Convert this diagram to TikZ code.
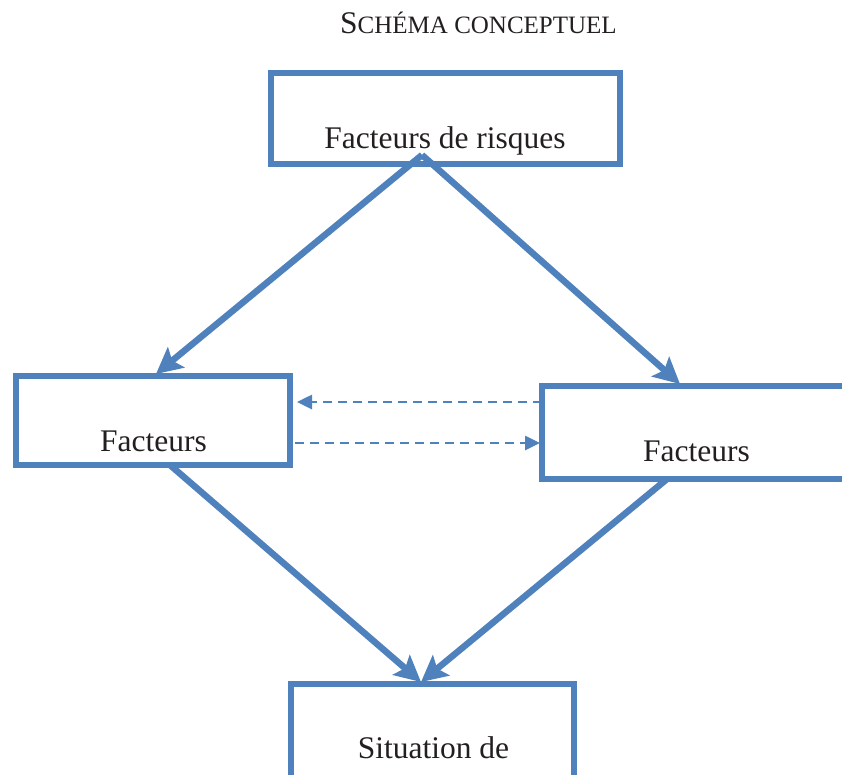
\documentclass[tikz,border=0pt]{standalone}
\usepackage{fontspec}
\setmainfont{Liberation Serif}
\usetikzlibrary{arrows.meta,calc}
\definecolor{boxblue}{HTML}{4F81BD}
\definecolor{ink}{HTML}{231F20}
\begin{document}
\begin{tikzpicture}[x=1pt,y=-1pt,
  box/.style={draw=boxblue,line width=6pt,rectangle,outer sep=0pt,inner sep=0pt},
  lbl/.style={anchor=base,inner sep=0pt,text=ink,font=\fontsize{31.5}{32}\selectfont},
  mainarrow/.style={draw=boxblue,line width=6.5pt,-{Stealth[length=26pt,width=26pt,inset=5pt]}},
  dasharrow/.style={draw=boxblue,line width=2.6pt,dash pattern=on 9pt off 6pt,-{Triangle[length=15pt,width=14pt]}}]
\clip (0,0) rectangle (842,774);
% title
\node[anchor=base,inner sep=0pt,text=ink] (title) at (478.5,33)
  {{\fontsize{31.5}{32}\selectfont S}{\fontsize{25}{26}\selectfont CHÉMA CONCEPTUEL}};
% boxes
\node[box,minimum width=349pt,minimum height=91pt] (top) at (445.5,118.5) {};
\node[box,minimum width=274pt,minimum height=89pt] (left) at (153,420.5) {};
\node[box,minimum width=310pt,minimum height=93pt] (right) at (697,432.5) {};
\node[box,minimum width=283pt,minimum height=96pt] (bottom) at (432.5,732) {};
% texts
\node[lbl] (toptext) at (445,148) {Facteurs de risques};
\node[lbl] (lefttext) at (153.5,451) {Facteurs};
\node[lbl] (righttext) at (696.5,461) {Facteurs};
\node[lbl] (bottomtext) at (433.5,758) {Situation de};
% connector points
\coordinate (apex) at ($(top.south)+(-23.5,-9)$);
\coordinate (ltip) at ($(left.north)+(3,-2)$);
\coordinate (rtip) at ($(right.north)+(-17,-2)$);
\coordinate (lstart) at ($(left.south)+(17,0)$);
\coordinate (rstart) at ($(right.south)+(-30,0)$);
\coordinate (btip) at ($(bottom.north)+(-11.5,-2)$);
\coordinate (d1s) at ($(right.north west)+(0,16)$);
\coordinate (d1e) at ($(left.north east)+(7,26)$);
\coordinate (d2s) at ($(left.north east)+(5,67)$);
\coordinate (d2e) at ($(right.north west)+(-2,57)$);
% main arrows
\draw[mainarrow] (apex) -- (ltip);
\draw[mainarrow] (apex) -- (rtip);
\draw[mainarrow] (lstart) -- (btip);
\draw[mainarrow] (rstart) -- (btip);
% dashed arrows
\draw[dasharrow] (d1s) -- (d1e);
\draw[dasharrow] (d2s) -- (d2e);
\end{tikzpicture}
\end{document}
